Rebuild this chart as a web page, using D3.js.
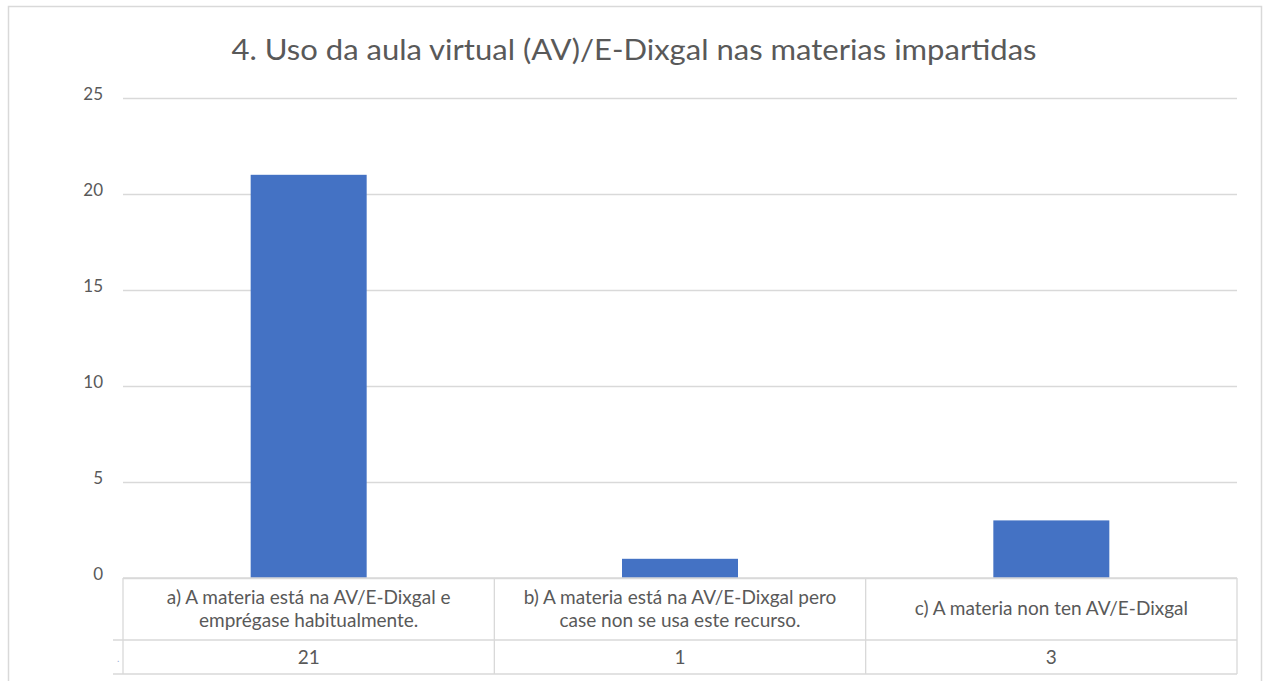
<!DOCTYPE html>
<html><head><meta charset="utf-8">
<script src="https://cdn.jsdelivr.net/npm/d3@7"></script>
<style>body{margin:0;background:#fff;} svg{display:block;}</style>
</head><body>
<svg id="chart" width="1263" height="681"></svg>
<script>
const categories = [
  ["a) A materia está na AV/E-Dixgal e", "emprégase habitualmente."],
  ["b) A materia está na AV/E-Dixgal pero", "case non se usa este recurso."],
  ["c) A materia non ten AV/E-Dixgal"]
];
const values = [21, 1, 3];
const yTicks = [0, 5, 10, 15, 20, 25];
const title = "4. Uso da aula virtual (AV)/E-Dixgal nas materias impartidas";

const svg = d3.select("#chart");
const font = "Lato, 'Open Sans', sans-serif";
const txt = "#595959", grid = "#d9d9d9";

// outer border
svg.append("rect").attr("x", 8.5).attr("y", 6.5).attr("width", 1253).attr("height", 690)
  .attr("fill", "none").attr("stroke", grid).attr("stroke-width", 1.5);

const x = d3.scaleBand().domain(d3.range(values.length)).range([123, 1237]).paddingInner(0).paddingOuter(0);
const y = d3.scaleLinear().domain([0, 25]).range([578, 98]);

svg.append("text").attr("x", 634).attr("y", 60).attr("text-anchor", "middle")
  .attr("font-family", font).attr("font-size", 29).attr("fill", txt)
  .attr("textLength", 805).attr("lengthAdjust", "spacingAndGlyphs").text(title);

// gridlines
const yAxis = d3.axisLeft(y).tickValues(yTicks).tickSize(-(1237 - 123)).tickPadding(20);
const ga = svg.append("g").attr("transform", "translate(123,0)").call(yAxis);
ga.select(".domain").remove();
ga.selectAll(".tick line").attr("stroke", grid).attr("stroke-width", 1.3);
ga.selectAll(".tick text").attr("font-family", font).attr("font-size", 17).attr("fill", txt).attr("dy", "0.1em");

// bars
const bw = 116;
svg.append("g").selectAll("rect").data(values).join("rect")
  .attr("x", (d, i) => x(i) + x.bandwidth() / 2 - bw / 2)
  .attr("width", bw)
  .attr("y", d => y(d))
  .attr("height", d => y(0) - y(d))
  .attr("fill", "#4472c4");

// data table
const t0 = y(0), t1 = 640, t2 = 674;
const tg = svg.append("g").attr("stroke", grid).attr("stroke-width", 1.3);
tg.append("line").attr("x1", 123).attr("x2", 1237).attr("y1", t0).attr("y2", t0);
tg.append("line").attr("x1", 113).attr("x2", 1237).attr("y1", t1).attr("y2", t1);
tg.append("line").attr("x1", 113).attr("x2", 1237).attr("y1", t2).attr("y2", t2);
const edges = d3.range(values.length).map(i => x(i)).concat([x.range()[1]]);
tg.selectAll(".v").data(edges).join("line")
  .attr("x1", d => d).attr("x2", d => d).attr("y1", t0).attr("y2", t2);

svg.append("text").attr("x", 117).attr("y", 662).attr("font-family", font).attr("font-size", 10).attr("fill", "#9db0d8").text(".");

const cg = svg.append("g").attr("font-family", font).attr("font-size", 19).attr("fill", txt).attr("text-anchor", "middle");
categories.forEach((lines, i) => {
  const cx = x(i) + x.bandwidth() / 2;
  const mid = (t0 + t1) / 2;
  const lh = 23;
  lines.forEach((l, j) => {
    cg.append("text").attr("x", cx).attr("y", mid + (j - (lines.length - 1) / 2) * lh + 6).text(l);
  });
  cg.append("text").attr("x", cx).attr("y", (t1 + t2) / 2 + 7).text(values[i]);
});
</script>
</body></html>
